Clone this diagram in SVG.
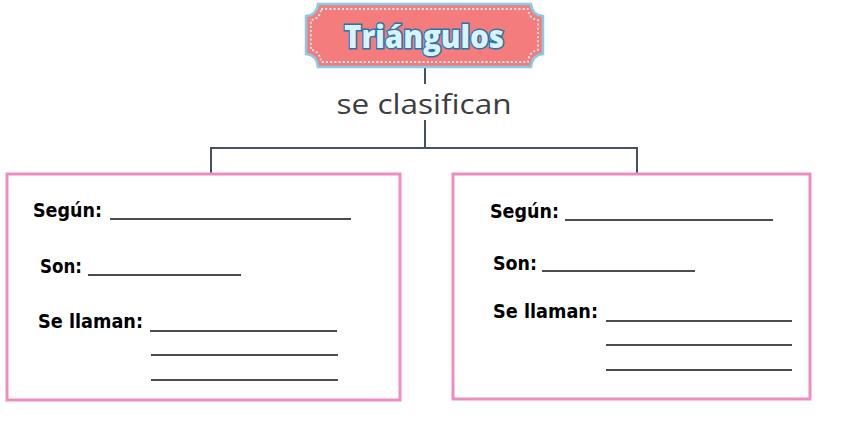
<svg xmlns="http://www.w3.org/2000/svg" width="851" height="431" viewBox="0 0 851 431">
<style>
.lbl{font-family:"DejaVu Sans","Liberation Sans",sans-serif;font-weight:bold;font-size:19.5px;fill:#000}
.blank{stroke:#111;stroke-width:1.5;fill:none}
.box{fill:#fff;stroke:#ee8ec0;stroke-width:3}
.conn{stroke:#46506b;stroke-width:2;fill:none}
</style>
<rect width="851" height="431" fill="#fff"/>
<g id="connectors">
<line class="conn" x1="425" y1="66" x2="425" y2="84"/>
<line class="conn" x1="425" y1="120" x2="425" y2="148"/>
<polyline class="conn" points="211,174 211,148 637,148 637,174"/>
</g>
<g id="title">
<path d="M318,4 H531 Q532,15 543,16 V54 Q532,55 531,67 H318 Q317,55 306,54 V16 Q317,15 318,4 Z" fill="#f47c7c" stroke="#86cbe8" stroke-width="2.5"/>
<path d="M321,9 H528 Q529,19 538,20 V50 Q529,51 528,62 H321 Q320,51 311,50 V20 Q320,19 321,9 Z" fill="none" stroke="#d8eef6" stroke-width="1.8" stroke-dasharray="2 2.2"/>
<text x="424" y="48" text-anchor="middle" textLength="160" lengthAdjust="spacingAndGlyphs" style="font-family:'Open Sans','Noto Sans',sans-serif;font-weight:800;font-size:32px;fill:#d9f3fc;stroke:#2a74ad;stroke-width:3;paint-order:stroke">Triángulos</text>
</g>
<g id="label-clasifican">
<text x="424" y="114" text-anchor="middle" textLength="175" lengthAdjust="spacingAndGlyphs" style="font-family:'Open Sans','Noto Sans',sans-serif;font-size:28px;fill:#3d3d3d">se clasifican</text>
</g>
<g id="box-left">
<rect class="box" x="7" y="174" width="393" height="226"/>
<text class="lbl" x="33" y="217" textLength="69" lengthAdjust="spacingAndGlyphs">Según:</text>
<line class="blank" x1="110" y1="219" x2="351" y2="219"/>
<text class="lbl" x="40" y="273" textLength="42" lengthAdjust="spacingAndGlyphs">Son:</text>
<line class="blank" x1="88" y1="275" x2="241" y2="275"/>
<text class="lbl" x="38" y="328" textLength="105" lengthAdjust="spacingAndGlyphs">Se llaman:</text>
<line class="blank" x1="150" y1="331" x2="337" y2="331"/>
<line class="blank" x1="151" y1="355" x2="338" y2="355"/>
<line class="blank" x1="151" y1="380" x2="338" y2="380"/>
</g>
<g id="box-right">
<rect class="box" x="453" y="174" width="357" height="225"/>
<text class="lbl" x="490" y="218" textLength="69" lengthAdjust="spacingAndGlyphs">Según:</text>
<line class="blank" x1="565" y1="220" x2="773" y2="220"/>
<text class="lbl" x="493" y="270" textLength="44" lengthAdjust="spacingAndGlyphs">Son:</text>
<line class="blank" x1="542" y1="271" x2="695" y2="271"/>
<text class="lbl" x="493" y="318" textLength="105" lengthAdjust="spacingAndGlyphs">Se llaman:</text>
<line class="blank" x1="606" y1="321" x2="792" y2="321"/>
<line class="blank" x1="606" y1="345" x2="792" y2="345"/>
<line class="blank" x1="606" y1="370" x2="792" y2="370"/>
</g>
</svg>
